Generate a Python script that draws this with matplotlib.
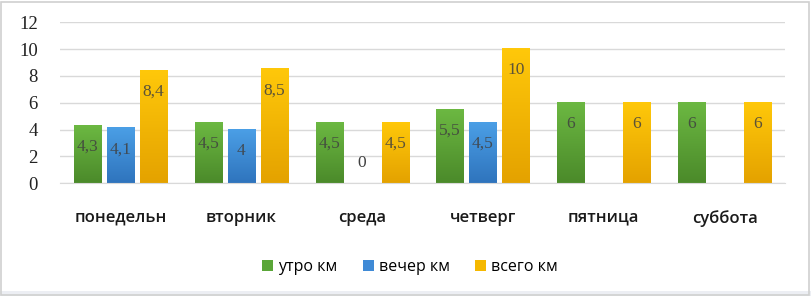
import numpy as np
import matplotlib
matplotlib.use("Agg")
import matplotlib.pyplot as plt
from matplotlib.colors import LinearSegmentedColormap
from matplotlib.patches import Rectangle

categories = ["понедельн", "вторник", "среда", "четверг", "пятница", "суббота"]
series_names = ["утро км", "вечер км", "всего км"]
morning = [4.3, 4.5, 4.5, 5.5, 6, 6]
evening = [4.1, 4, 0, 4.5, None, None]
total = [8.4, 8.5, 4.5, 10, 6, 6]
y_ticks = [0, 2, 4, 6, 8, 10, 12]

series = [morning, evening, total]
grad = [("#6cb842", "#4b8a2a"), ("#4b9fe6", "#2f74bd"), ("#ffc80a", "#e4a200")]
legend_colors = ["#5aa638", "#3f8ad6", "#f5b800"]

W, H = 811, 296
fig = plt.figure(figsize=(W / 100, H / 100), dpi=100)
fig.patch.set_facecolor("white")
# bottom light strip and border
fig.add_artist(Rectangle((0, 0), 1, 5 / H, transform=fig.transFigure,
                         facecolor="#eceef3", edgecolor="none"))
fig.add_artist(Rectangle((1 / W, 1 / H), 1 - 3 / W, 1 - 3 / H, transform=fig.transFigure,
                         facecolor="none", edgecolor="#d0d0d0", lw=1.2))

left, right = 60 / W, 785 / W
bottom, top = 1 - 183.3 / H, 1 - 22.3 / H
ax = fig.add_axes([left, bottom, right - left, top - bottom])
ax.set_facecolor("none")

x = np.arange(len(categories))
offs = [-0.273, 0, 0.273]
bw = 0.224
serif = "Liberation Serif"

for si, vals in enumerate(series):
    cmap = LinearSegmentedColormap.from_list("g%d" % si, [grad[si][1], grad[si][0]])
    g = np.linspace(0, 1, 128).reshape(-1, 1)
    for i, v in enumerate(vals):
        if v is None:
            continue
        xc = x[i] + offs[si]
        if v > 0:
            ax.imshow(g, extent=[xc - bw / 2, xc + bw / 2, 0, v], origin="lower",
                      aspect="auto", cmap=cmap, zorder=2, interpolation="bilinear")
            ax.annotate(("%g" % v).replace(".", ","), (xc, v), xytext=(0, -21),
                        textcoords="offset pixels", ha="center", va="center",
                        fontsize=12.5, family=serif, color="#404040", alpha=0.85, zorder=3)
        else:
            ax.annotate("0", (xc, 0), xytext=(0, 20),
                        textcoords="offset pixels", ha="center", va="center",
                        fontsize=12.5, family=serif, color="#404040", zorder=3)

ax.set_xlim(-0.5, len(categories) - 0.5)
ax.set_ylim(0, 12)
ax.set_yticks(y_ticks)
ax.set_yticklabels([str(t) for t in y_ticks], family=serif, fontsize=13.5, color="#222222")
ax.yaxis.grid(True, color="#d9d9d9", lw=1, zorder=0)
ax.set_axisbelow(True)
ax.tick_params(axis="y", length=0, pad=16)
ax.set_xticks(x)
ax.set_xticklabels(categories, fontsize=12, family="Open Sans", fontweight="semibold",
                   color="#1a1a1a")
ax.tick_params(axis="x", length=0, pad=19)
for s in ["left", "right", "top"]:
    ax.spines[s].set_visible(False)
ax.spines["bottom"].set_color("#d9d9d9")

handles = [Rectangle((0, 0), 1, 1, facecolor=c, edgecolor="none") for c in legend_colors]
fig.legend(handles, series_names, loc="center", bbox_to_anchor=(410 / W, 1 - 267 / H),
           ncol=3, frameon=False, prop={"family": "Open Sans", "size": 11.5},
           handlelength=0.7, handleheight=0.7, handletextpad=0.3, columnspacing=1.6)

fig.savefig("out.png", dpi=100)
